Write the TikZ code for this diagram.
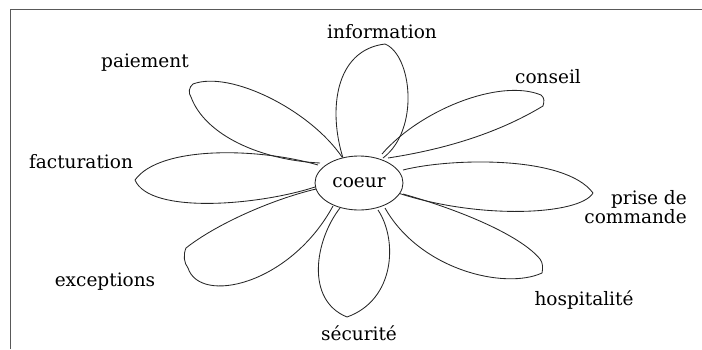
\documentclass[tikz,border=0pt]{standalone}
\usepackage{fontspec}
\setmainfont{DejaVu Serif}
\usetikzlibrary{shapes.geometric}
\begin{document}
\begin{tikzpicture}[x=1pt,y=-1pt,
  petal/.style={draw=black!85,line width=0.85pt,line join=round},
  petaltext/.style={font=\fontsize{18.5}{15}\selectfont,inner sep=0pt,text=black},
  framerule/.style={draw=black!65,line width=1.3pt}]
\useasboundingbox (0,0) rectangle (702,349);
% page frame (left and top rules)
\draw[framerule] (10.5,349) -- (10.5,9.5) -- (702,9.5);

% petals, clockwise from the top
\draw[petal] (343,158) .. controls (328,110) and (335,50) .. (385,44)
  .. controls (412,55) and (420,130) .. (383,158);
\draw[petal] (382,154) .. controls (420,110) and (500,78) .. (541,95)
  .. controls (545,98) and (544,102) .. (543,106)
  .. controls (495,135) and (440,150) .. (388,158);
\draw[petal] (403,170) .. controls (450,158) and (565,155) .. (593,193)
  .. controls (580,215) and (480,220) .. (398,193);
\draw[petal] (403,194) .. controls (460,210) and (520,235) .. (540,259)
  .. controls (543,263) and (543,268) .. (542,273)
  .. controls (505,290) and (420,270) .. (385,208);
\draw[petal] (340,208) .. controls (315,240) and (305,300) .. (347,317)
  .. controls (395,300) and (398,240) .. (378,210);
\draw[petal] (316,189) .. controls (270,200) and (215,225) .. (186,248)
  .. controls (183,255) and (184,263) .. (188,268)
  .. controls (200,305) and (290,285) .. (333,206);
\draw[petal] (318,165) .. controls (260,148) and (160,145) .. (135,180)
  .. controls (150,215) and (260,205) .. (315,187);
\draw[petal] (342,157) .. controls (310,110) and (230,70) .. (193,84)
  .. controls (189,87) and (188,93) .. (191,97)
  .. controls (205,135) and (260,160) .. (320,163);

% heart of the flower
\node[ellipse,draw=black!85,line width=0.85pt,fill=white,
  minimum width=88pt,minimum height=54pt,inner sep=0pt,petaltext] (coeur) at (359,183) {coeur};

% petal labels
\node[petaltext] (information) at (382,32) {information};
\node[petaltext] (conseil) at (548,77) {conseil};
\node[petaltext,align=right,anchor=east] (prise) at (687,207) {prise de\\commande};
\node[petaltext] (hospitalite) at (584,300) {hospitalité};
\node[petaltext] (securite) at (359,333) {sécurité};
\node[petaltext] (exceptions) at (105,282) {exceptions};
\node[petaltext] (facturation) at (81,162) {facturation};
\node[petaltext] (paiement) at (145,63) {paiement};
\end{tikzpicture}
\end{document}
